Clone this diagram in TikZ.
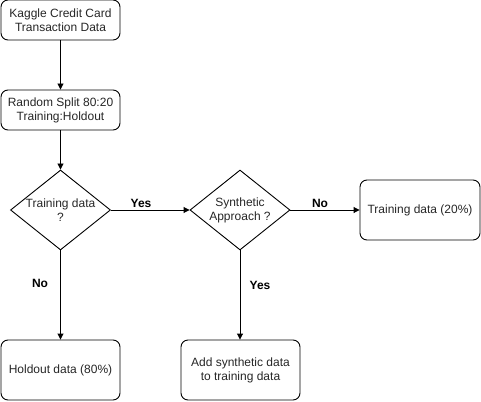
\documentclass[tikz,border=0pt]{standalone}
\usepackage{fontspec}
\setmainfont{Liberation Sans}
\usetikzlibrary{shapes.geometric,arrows.meta}
\begin{document}
\begin{tikzpicture}[x=1pt,y=-1pt,
  every node/.style={font=\fontsize{12}{14}\selectfont, text=black!85},
  rbox/.style={draw=black, line width=0.9pt, rounded corners=7pt, minimum width=#1, align=center, inner sep=0pt},
  rbox/.default=119,
  dia/.style={draw=black, line width=0.9pt, shape=diamond, minimum width=100, minimum height=80, inner sep=0pt, aspect=1.25},
  conn/.style={draw=black, line width=0.9pt, -{Triangle[length=6pt,width=6pt]}},
  lbl/.style={font=\bfseries\fontsize{12}{14}\selectfont, text=black}]
\useasboundingbox (0,0) rectangle (481,401);
\node[rbox, minimum height=40] (kag) at (60.5,20) {Kaggle Credit Card\\Transaction Data};
\node[rbox, minimum height=40] (split) at (60.5,110) {Random Split 80:20\\Training:Holdout};
\node[dia] (d1) at (60.5,210) {};
\node[align=center] (d1t) at (60.5,210) {Training data\\?};
\node[dia] (d2) at (240,210) {};
\node[align=center] (d2t) at (240,210) {Synthetic\\Approach ?};
\node[rbox=120, minimum height=60] (tr) at (420,210) {Training data (20\%)};
\node[rbox, minimum height=60] (hold) at (60.5,370) {Holdout data (80\%)};
\node[rbox, minimum height=60] (add) at (240.5,370) {Add synthetic data\\to training data};
\draw[conn] (kag) -- (split);
\draw[conn] (split) -- (d1);
\draw[conn] (d1) -- (d2);
\draw[conn] (d2) -- (tr);
\draw[conn] (d1.south) -- (hold);
\draw[conn] (d2.south) -- (add.north -| d2.south);
\node[lbl] (ly1) at (141,203) {Yes};
\node[lbl] (ln1) at (320,203) {No};
\node[lbl] (ln2) at (40,283) {No};
\node[lbl] (ly2) at (260,285) {Yes};
\end{tikzpicture}
\end{document}
